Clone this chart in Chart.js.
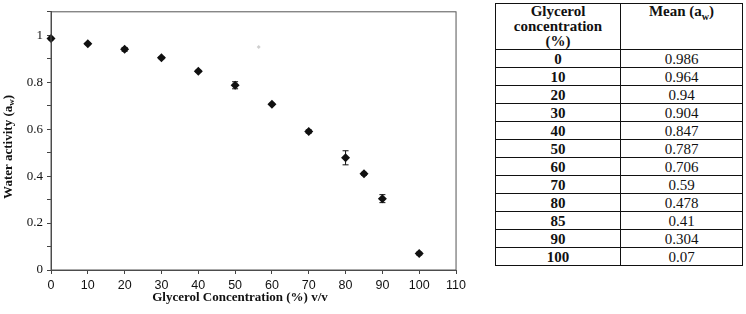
<!DOCTYPE html>
<html>
<head>
<meta charset="utf-8">
<script src="https://cdn.jsdelivr.net/npm/chart.js@4.4.1/dist/chart.umd.min.js"></script>
<style>
  body { margin: 0; background: #fff; }
  #wrap { position: relative; width: 746px; height: 314px; }
  #plot { position: absolute; left: 0; top: 0; width: 470px; height: 314px; }
  #tbl {
    position: absolute; left: 495px; top: 3px; width: 248px;
    border-collapse: collapse; font-family: "Liberation Serif", serif; font-size: 15px; color: #111;
  }
  #tbl td, #tbl th { border: 1.5px solid #111; text-align: center; padding: 0; height: 17px; line-height: 16px; }
  #tbl th { font-weight: bold; vertical-align: top; height: 45px; font-size: 15px; line-height: 15px; }
  #tbl td.c { font-weight: bold; }
</style>
</head>
<body>
<div id="wrap">
  <div id="plot"><canvas id="chartAw"></canvas></div>
  <table id="tbl"></table>
</div>
<script>
// glycerol % v/v and measured water activity
const concentrations = [0, 10, 20, 30, 40, 50, 60, 70, 80, 85, 90, 100];
const meanAw = [0.986, 0.964, 0.94, 0.904, 0.847, 0.787, 0.706, 0.59, 0.478, 0.41, 0.304, 0.07];
const errAw = [0.005, 0.004, 0.008, 0.004, 0.004, 0.015, 0.004, 0.007, 0.03, 0.006, 0.017, 0.006];
// faint stray mark in the source figure
const strayX = [56.4];
const strayY = [0.95];
const xTicks = [0, 10, 20, 30, 40, 50, 60, 70, 80, 90, 100, 110];

// table
let html = '<tr><th style="width:124px">Glycerol<br>concentration<br>(%)</th><th>Mean (a<sub style="font-size:10px">w</sub>)</th></tr>';
concentrations.forEach((c, i) => {
    html += '<tr><td class="c">' + c + '</td><td>' + meanAw[i] + '</td></tr>';
});
document.getElementById('tbl').innerHTML = html;

const errorBars = {
    id: 'errorBars',
    afterDatasetsDraw(chart) {
        const ctx = chart.ctx;
        const xs = chart.scales.x, ys = chart.scales.y;
        ctx.save();
        ctx.strokeStyle = '#111';
        ctx.lineWidth = 1;
        concentrations.forEach((c, i) => {
            const px = xs.getPixelForValue(c);
            const top = ys.getPixelForValue(meanAw[i] + errAw[i]);
            const bot = ys.getPixelForValue(meanAw[i] - errAw[i]);
            ctx.beginPath();
            ctx.moveTo(px, top); ctx.lineTo(px, bot);
            ctx.moveTo(px - 3, top); ctx.lineTo(px + 3, top);
            ctx.moveTo(px - 3, bot); ctx.lineTo(px + 3, bot);
            ctx.stroke();
        });
        ctx.restore();
    }
};

const frameAndTitles = {
    id: 'frameAndTitles',
    afterDraw(chart) {
        const ctx = chart.ctx;
        const a = chart.chartArea;
        ctx.save();
        ctx.strokeStyle = '#555';
        ctx.lineWidth = 1;
        ctx.strokeRect(a.left, a.top, a.right - a.left, a.bottom - a.top);
        ctx.fillStyle = '#111';
        ctx.textBaseline = 'middle';
        // x title
        ctx.font = 'bold 13px "Liberation Serif", serif';
        ctx.textAlign = 'center';
        ctx.fillText('Glycerol Concentration (%) v/v', 240, 298);
        // y title with subscript
        ctx.translate(9, (a.top + a.bottom) / 2 + 6);
        ctx.rotate(-Math.PI / 2);
        const t1 = 'Water activity (a', t2 = 'w', t3 = ')';
        ctx.font = 'bold 13px "Liberation Serif", serif';
        const w1 = ctx.measureText(t1).width, w3 = ctx.measureText(t3).width;
        ctx.font = 'bold 9px "Liberation Serif", serif';
        const w2 = ctx.measureText(t2).width;
        let x0 = -(w1 + w2 + w3) / 2;
        ctx.textAlign = 'left';
        ctx.font = 'bold 13px "Liberation Serif", serif';
        ctx.fillText(t1, x0, 0);
        ctx.font = 'bold 9px "Liberation Serif", serif';
        ctx.fillText(t2, x0 + w1, 3);
        ctx.font = 'bold 13px "Liberation Serif", serif';
        ctx.fillText(t3, x0 + w1 + w2, 0);
        ctx.restore();
    }
};

const ctxAw = document.getElementById('chartAw').getContext('2d');
const chartAw = new Chart(ctxAw, {
    type: 'scatter',
    data: {
        datasets: [{
            data: concentrations.map((c, i) => ({ x: c, y: meanAw[i] })),
            pointStyle: 'rectRot',
            pointRadius: 4.5,
            backgroundColor: '#111',
            borderColor: '#111',
            borderWidth: 0,
            clip: false
        }, {
            data: strayX.map((v, i) => ({ x: v, y: strayY[i] })),
            pointStyle: 'rectRot',
            pointRadius: 2,
            backgroundColor: '#cfcfcf',
            borderWidth: 0
        }]
    },
    options: {
        animation: false,
        responsive: true,
        maintainAspectRatio: false,
        layout: { padding: { top: 5, right: 8 } },
        plugins: { legend: { display: false }, tooltip: { enabled: false } },
        scales: {
            x: {
                min: 0, max: 110,
                afterBuildTicks: s => { s.ticks = xTicks.map(v => ({ value: v })); },
                afterFit: s => { s.height = 44; },
                grid: { drawOnChartArea: false, tickLength: 4, color: '#444' },
                border: { color: '#444' },
                ticks: { padding: 4, color: '#111', font: { family: '"Liberation Sans", sans-serif', size: 12.5 } }
            },
            y: {
                min: 0, max: 1.1,
                afterFit: s => { s.width = 51; },
                grid: { drawOnChartArea: false, tickLength: 4, color: '#444' },
                border: { color: '#444' },
                ticks: {
                    stepSize: 0.1, padding: 4, color: '#111',
                    font: { family: '"Liberation Serif", serif', size: 13 },
                    callback: v => {
                        const k = Math.round(v * 10);
                        return (k % 2 === 0 && k <= 10) ? String(k / 10) : '';
                    }
                }
            }
        }
    },
    plugins: [errorBars, frameAndTitles]
});
</script>
</body>
</html>
